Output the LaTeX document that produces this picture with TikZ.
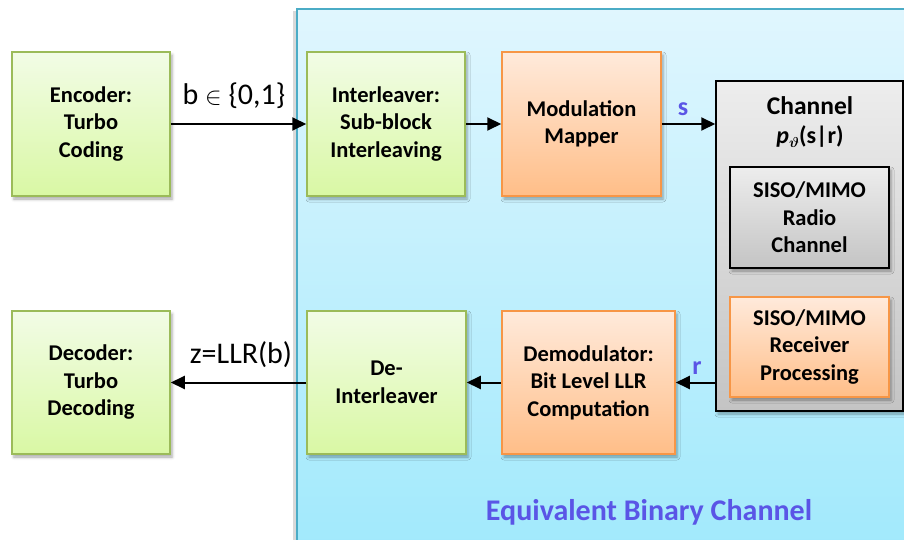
\documentclass[tikz,border=0pt]{standalone}
\usepackage{amsmath}
\usepackage{fontspec}
\setmainfont{Carlito}
\usetikzlibrary{arrows.meta,shadows.blur}

\definecolor{grtop}{HTML}{F2FCE6}
\definecolor{grbot}{HTML}{D9F8A4}
\definecolor{grline}{HTML}{9BBB59}
\definecolor{ortop}{HTML}{FFEADB}
\definecolor{orbot}{HTML}{FFBE88}
\definecolor{orline}{HTML}{F79646}
\definecolor{gytop}{HTML}{EDEDED}
\definecolor{gybot}{HTML}{C4C4C4}
\definecolor{bgtop}{HTML}{E0F6FE}
\definecolor{bgbot}{HTML}{A0E9FC}
\definecolor{bgline}{HTML}{4BACC6}
\definecolor{lbl}{HTML}{5A55E6}

\tikzset{
  blk/.style={rectangle, line width=1.5pt, align=center,
    font=\fontsize{22.5}{27.5}\selectfont\bfseries, inner sep=0pt,
    blur shadow={shadow xshift=2pt, shadow yshift=-3pt,
                 shadow blur radius=3pt, shadow opacity=35}},
  greenblk/.style={blk, draw=grline, top color=grtop, bottom color=grbot},
  orangeblk/.style={blk, draw=orline, top color=ortop, bottom color=orbot},
  grayblk/.style={blk, draw=black, top color=gytop, bottom color=gybot},
  arr/.style={line width=2pt, -{Triangle[length=14pt,width=13pt]}},
  sig/.style={font=\fontsize{26}{28}\selectfont\bfseries, text=lbl, inner sep=0pt},
  edgelbl/.style={font=\fontsize{30}{32}\selectfont, inner sep=0pt}
}

\begin{document}
\begin{tikzpicture}[x=1pt,y=-1pt]
\useasboundingbox (0,0) rectangle (904,540);

% shaded region of the equivalent binary channel
\begin{scope}
  \clip (0,0) rectangle (904,540);
  \fill[black!25, opacity=0.6] (293,11) rectangle (300,560);
  \shade[top color=bgtop, bottom color=bgbot] (297,9) rectangle (920,560);
  \draw[bgline, line width=1.5pt] (297,560) -- (297,9) -- (920,9);
\end{scope}
\node[font=\fontsize{30}{32}\selectfont\bfseries, text=lbl, inner sep=0pt]
  (ebc) at (649,512) {Equivalent Binary Channel};

% transmitter chain
\node[greenblk, minimum width=158pt, minimum height=144pt] (enc) at (91,124)
  {Encoder:\\Turbo\\Coding};
\node[greenblk, minimum width=158pt, minimum height=144pt] (intl) at (386,124)
  {Interleaver:\\Sub-block\\Interleaving};
\node[orangeblk, minimum width=159pt, minimum height=144pt] (map) at (581.5,124)
  {Modulation\\Mapper};

% channel
\node[grayblk, minimum width=187pt, minimum height=330pt] (chan) at (809.5,246) {};
\node[font=\fontsize{25.5}{27}\selectfont\bfseries, inner sep=0pt] (chtitle) at (810,106) {Channel};
\node[font=\fontsize{24}{26}\selectfont\bfseries, inner sep=0pt] (chpdf) at (810,137)
  {\textit{p}\raisebox{-4pt}{\fontsize{15}{15}\selectfont$\boldsymbol{\vartheta}$}(s|r)};
\node[grayblk, minimum width=159pt, minimum height=101pt] (radio) at (809.5,217.5)
  {SISO/MIMO\\Radio\\Channel};
\node[orangeblk, minimum width=159pt, minimum height=100pt] (rx) at (809.5,347)
  {SISO/MIMO\\Receiver\\Processing};

% receiver chain
\node[orangeblk, minimum width=173pt, minimum height=143pt] (demod) at (588.5,382.5)
  {Demodulator:\\Bit Level LLR\\Computation};
\node[greenblk, minimum width=159pt, minimum height=143pt] (deint) at (386.5,382.5)
  {De-\\Interleaver};
\node[greenblk, minimum width=158pt, minimum height=143pt] (dec) at (91,382.5)
  {Decoder:\\Turbo\\Decoding};

% connectors
\draw[arr] (enc.east) -- (intl.west);
\draw[arr] (intl.east) -- (map.west);
\draw[arr] (map.east) -- (map.east -| chan.west);
\draw[arr] (chan.west |- demod.east) -- (demod.east);
\draw[arr] (demod.west) -- (deint.east);
\draw[arr] (deint.west) -- (dec.east);

% signal labels
\node[edgelbl] (blbl) at (234,96) {b $\in$ \{0,1\}};
\node[edgelbl] (zlbl) at (241,355) {z=LLR(b)};
\node[sig] (slbl) at (683,109) {s};
\node[sig] (rlbl) at (697,368) {r};
\end{tikzpicture}
\end{document}
